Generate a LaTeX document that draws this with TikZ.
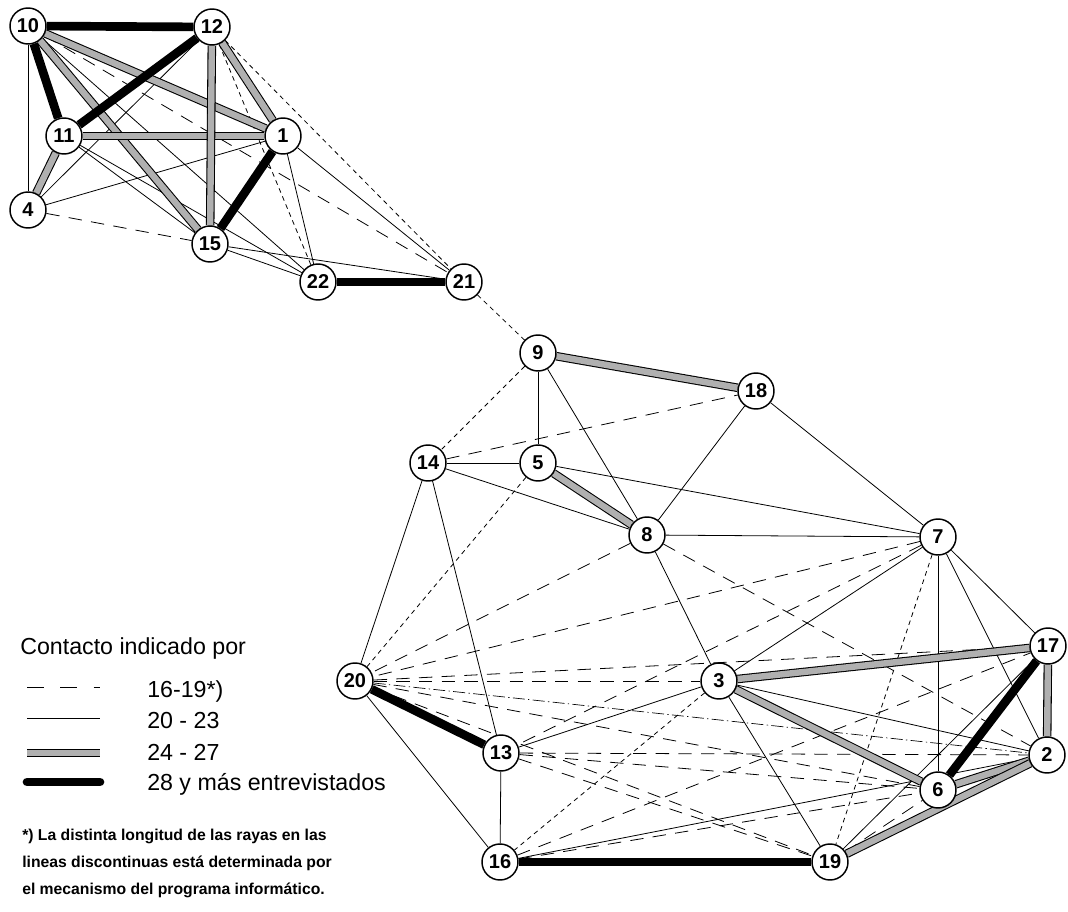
\documentclass[tikz,border=0pt]{standalone}
\usepackage{fontspec}
\setmainfont{Liberation Sans}
\usetikzlibrary{backgrounds}
\begin{document}
\begin{tikzpicture}[x=0.75pt,y=-0.75pt,
 nd/.style={circle,draw,line width=1.1pt,fill=white,minimum size=27pt,inner sep=0pt,font=\fontsize{15}{15}\selectfont\bfseries},
 thinE/.style={line width=0.6pt},
 ldash/.style={line width=0.6pt,dash pattern=on 10pt off 7pt},
 sdash/.style={line width=0.6pt,dash pattern=on 3.5pt off 3pt},
 ddot/.style={line width=0.5pt,dash pattern=on 9pt off 2.5pt on 1pt off 2.5pt},
 grayE/.style={line width=0.8pt,double=gray!62,double distance=4.8pt},
 thickE/.style={line width=6.5pt},
 lgtext/.style={anchor=base west,inner sep=0pt,font=\fontsize{17.4}{20}\selectfont},
 fntext/.style={anchor=base west,inner sep=0pt,font=\fontsize{11.8}{14}\selectfont\bfseries}]
\useasboundingbox (0,0) rectangle (1068,912);
% nodes
\node[nd] (n10) at (28,26) {10};
\node[nd] (n12) at (212,27) {12};
\node[nd] (n11) at (64,136) {11};
\node[nd] (n1) at (283,136) {1};
\node[nd] (n4) at (28,210) {4};
\node[nd] (n15) at (210,244) {15};
\node[nd] (n22) at (318,282) {22};
\node[nd] (n21) at (464,282) {21};
\node[nd] (n9) at (538,353) {9};
\node[nd] (n18) at (756,391) {18};
\node[nd] (n14) at (428,463) {14};
\node[nd] (n5) at (538,463) {5};
\node[nd] (n8) at (647,535) {8};
\node[nd] (n7) at (938,537) {7};
\node[nd] (n17) at (1048,646) {17};
\node[nd] (n20) at (355,681) {20};
\node[nd] (n3) at (719,681) {3};
\node[nd] (n13) at (501,753) {13};
\node[nd] (n2) at (1047,755) {2};
\node[nd] (n6) at (938,790) {6};
\node[nd] (n16) at (500,862) {16};
\node[nd] (n19) at (830,862) {19};
\begin{scope}[on background layer]
% long dashes
\foreach \a/\b in {4/15,10/21,14/18,8/20,8/2,7/20,7/13,20/3,20/17,20/6,20/19,13/2,13/6,13/19,16/6,16/17,19/6}
  \draw[ldash] (n\a) -- (n\b);
\draw[ddot] (n20) -- (n2);
% short dashes
\foreach \a/\b in {12/22,12/21,21/9,9/14,5/20,7/19,3/16}
  \draw[sdash] (n\a) -- (n\b);
% thin
\foreach \a/\b in {10/4,4/12,4/1,11/15,11/22,10/22,15/22,15/21,1/22,1/21,9/5,9/8,14/5,14/8,18/8,18/7,5/7,8/7,8/3,14/20,14/13,20/16,13/16,13/3,7/3,7/6,7/2,7/17,3/2,3/19,19/17,16/2}
  \draw[thinE] (n\a) -- (n\b);
% gray
\foreach \a/\b in {10/1,10/15,11/1,12/15,12/1,11/4,9/18,5/8,3/17,3/6,17/2,6/2,19/2}
  \draw[grayE] (n\a) -- (n\b);
% thick
\foreach \a/\b in {10/12,10/11,11/12,1/15,22/21,20/13,16/19,17/6}
  \draw[thickE] (n\a) -- (n\b);
\end{scope}
% legend
\node[lgtext] (lgtitle) at (20,655) {Contacto indicado por};
\coordinate (la1) at (27,687); \coordinate (lb1) at (100,687);
\coordinate (la2) at (27,718); \coordinate (lb2) at (100,718);
\coordinate (la3) at (27,753); \coordinate (lb3) at (100,753);
\coordinate (la4) at (27,782); \coordinate (lb4) at (100,782);
\draw[line width=0.6pt,dash pattern=on 12.5pt off 12.5pt] (la1) -- (lb1);
\draw[thinE] (la2) -- (lb2);
\draw[grayE] (la3) -- (lb3);
\draw[thickE,line cap=round] (la4) -- (lb4);
\node[lgtext] (lg1) at (147,697) {16-19*)};
\node[lgtext] (lg2) at (147,728) {20 - 23};
\node[lgtext] (lg3) at (147,760) {24 - 27};
\node[lgtext] (lg4) at (147,790) {28 y más entrevistados};
\node[fntext] (fn1) at (22,840) {*) La distinta longitud de las rayas en las};
\node[fntext] (fn2) at (22,867) {lineas discontinuas está determinada por};
\node[fntext] (fn3) at (22,894) {el mecanismo del programa informático.};
\end{tikzpicture}
\end{document}
